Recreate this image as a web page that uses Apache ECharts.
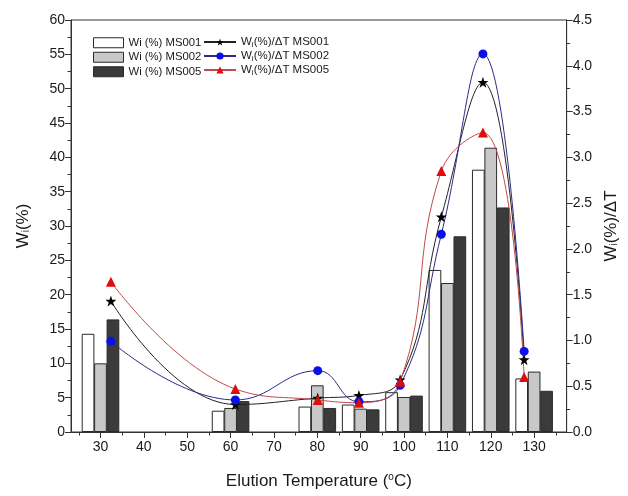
<!DOCTYPE html>
<html>
<head>
<meta charset="utf-8">
<script src="https://cdn.jsdelivr.net/npm/echarts@6/dist/echarts.min.js"></script>
<style>html,body{margin:0;padding:0;background:#fff}#c{width:628px;height:496px}</style>
</head>
<body>
<div id="c"></div>
<script>
// ---- data ----
var temps = [30, 60, 80, 90, 100, 110, 120, 130];
var wiMS001 = [14.3, 3.1, 3.7, 4.0, 5.8, 23.6, 38.2, 7.8];
var wiMS002 = [10.0, 3.5, 6.8, 3.4, 5.1, 21.7, 41.4, 8.8];
var wiMS005 = [16.4, 4.5, 3.5, 3.3, 5.3, 28.5, 32.7, 6.0];

var rateTemps = [32.4, 61.1, 80.1, 89.6, 99.1, 108.6, 118.2, 127.7];
var rateMS001 = [1.43, 0.30, 0.37, 0.40, 0.57, 2.35, 3.82, 0.79];
var rateMS002 = [0.99, 0.35, 0.67, 0.33, 0.51, 2.16, 4.13, 0.88];
var rateMS005 = [1.64, 0.47, 0.35, 0.32, 0.55, 2.85, 3.27, 0.60];

var xMajorTicks = [30, 40, 50, 60, 70, 80, 90, 100, 110, 120, 130];
var xMinorTicks = [25, 35, 45, 55, 65, 75, 85, 95, 105, 115, 125, 135];

var barNames = ['Wi (%) MS001', 'Wi (%) MS002', 'Wi (%) MS005'];
var lineNames = ['W_i(%)/ΔT MS001', 'W_i(%)/ΔT MS002', 'W_i(%)/ΔT MS005'];

// ---- layout helpers ----
var barOffset = 2.87;
var xMin = 23.2, xMax = 137.5;
function pairs(xs, ys, dx) { return xs.map(function (x, i) { return [x + (dx || 0), ys[i]]; }); }

var font = 'Liberation Sans, Arial, sans-serif';
var axisCol = '#333';
var txtCol = '#1a1a1a';

function barSeries(name, vals, dx, color) {
  return {
    name: name, type: 'bar', xAxisIndex: 0, yAxisIndex: 0,
    data: pairs(temps, vals, dx), barWidth: 12.7, barGap: '-100%',
    itemStyle: { color: color, borderColor: '#2a2a2a', borderWidth: 1 }
  };
}
function lineSeries(name, vals, lineCol, markCol, sym, size) {
  return {
    name: name, type: 'line', xAxisIndex: 0, yAxisIndex: 1,
    data: pairs(rateTemps, vals), smooth: 0.45,
    symbol: sym, symbolSize: size,
    lineStyle: { color: lineCol, width: 1 },
    itemStyle: { color: markCol },
    z: 5
  };
}
var starPath = 'path://M50,0 L61.8,35.1 L98.9,35.1 L68.9,56.9 L80.3,91.9 L50,70.2 L19.7,91.9 L31.1,56.9 L1.1,35.1 L38.2,35.1 Z';

var chart = echarts.init(document.getElementById('c'), null, { renderer: 'canvas' });
chart.setOption({
  animation: false,
  backgroundColor: '#fff',
  textStyle: { fontFamily: font, color: txtCol },
  grid: { left: 71, right: 52, top: 20, bottom: 64, show: true, borderColor: axisCol, borderWidth: 1, backgroundColor: 'transparent' },
  legend: [
    {
      data: barNames, orient: 'vertical', left: 93, top: 36, padding: 0,
      itemWidth: 30, itemHeight: 10, itemGap: 1, icon: 'rect',
      itemStyle: { borderWidth: 1, borderColor: '#2a2a2a' },
      textStyle: { fontSize: 11.3, lineHeight: 13.5, color: txtCol, fontFamily: font }
    },
    {
      data: lineNames, orient: 'vertical', left: 203, top: 35, padding: 0,
      itemWidth: 32, itemHeight: 9, itemGap: 0,
      formatter: function (n) { return n.replace('W_i', 'W{sub|i}'); },
      textStyle: { fontSize: 11.5, lineHeight: 14, color: txtCol, fontFamily: font,
        rich: { sub: { fontSize: 8, lineHeight: 14, padding: [5, 0, 0, 0], fontFamily: font, color: txtCol } } }
    }
  ],
  xAxis: [
    {
      type: 'value', min: xMin, max: xMax, position: 'bottom',
      name: 'Elution Temperature ({sup|o}C)', nameLocation: 'middle', nameGap: 40,
      nameTextStyle: { fontSize: 17, color: txtCol, fontFamily: font,
        rich: { sup: { fontSize: 10, padding: [0, 0, 9, 0], fontFamily: font, color: txtCol } } },
      splitLine: { show: false },
      axisLine: { onZero: false, lineStyle: { color: axisCol, width: 1 } },
      axisTick: { customValues: xMajorTicks, length: 6, lineStyle: { color: axisCol } },
      axisLabel: { customValues: xMajorTicks, fontSize: 14, color: txtCol, margin: 8, fontFamily: font }
    },
    {
      type: 'value', min: xMin, max: xMax, position: 'bottom', offset: 0,
      splitLine: { show: false },
      axisLine: { show: false, onZero: false },
      axisTick: { customValues: xMinorTicks, length: 3.5, lineStyle: { color: axisCol } },
      axisLabel: { show: false }
    }
  ],
  yAxis: [
    {
      type: 'value', min: 0, max: 60, interval: 5, position: 'left',
      name: 'W{sub|i}(%)', nameLocation: 'middle', nameGap: 39, nameRotate: 90,
      nameTextStyle: { fontSize: 17, color: txtCol, fontFamily: font,
        rich: { sub: { fontSize: 10, padding: [6, 0, 0, 0], fontFamily: font, color: txtCol } } },
      splitLine: { show: false },
      axisLine: { show: true, lineStyle: { color: axisCol } },
      axisTick: { show: true, length: 6, lineStyle: { color: axisCol } },
      minorTick: { show: true, splitNumber: 2, length: 3.5, lineStyle: { color: axisCol } },
      axisLabel: { fontSize: 14, color: txtCol, margin: 6, fontFamily: font }
    },
    {
      type: 'value', min: 0, max: 4.5, interval: 0.5, position: 'right',
      name: 'W{sub|i}(%)/ΔT', nameLocation: 'middle', nameGap: 36, nameRotate: 90,
      nameTextStyle: { fontSize: 17, color: txtCol, fontFamily: font,
        rich: { sub: { fontSize: 10, padding: [6, 0, 0, 0], fontFamily: font, color: txtCol } } },
      splitLine: { show: false },
      axisLine: { show: true, lineStyle: { color: axisCol } },
      axisTick: { show: true, length: 6, lineStyle: { color: axisCol } },
      minorTick: { show: true, splitNumber: 2, length: 3.5, lineStyle: { color: axisCol } },
      axisLabel: { fontSize: 14, color: txtCol, margin: 6, fontFamily: font,
        formatter: function (v) { return v.toFixed(1); } }
    }
  ],
  series: [
    barSeries(barNames[0], wiMS001, -barOffset, '#ffffff'),
    barSeries(barNames[1], wiMS002, 0, '#c8c8c8'),
    barSeries(barNames[2], wiMS005, barOffset, '#3b3b3b'),
    lineSeries(lineNames[0], rateMS001, '#222222', '#000000', starPath, 11),
    lineSeries(lineNames[1], rateMS002, '#2b2b8c', '#0a10e8', 'circle', 9),
    lineSeries(lineNames[2], rateMS005, '#c24a4a', '#e00c0c', 'triangle', 10)
  ]
});
</script>
</body>
</html>
